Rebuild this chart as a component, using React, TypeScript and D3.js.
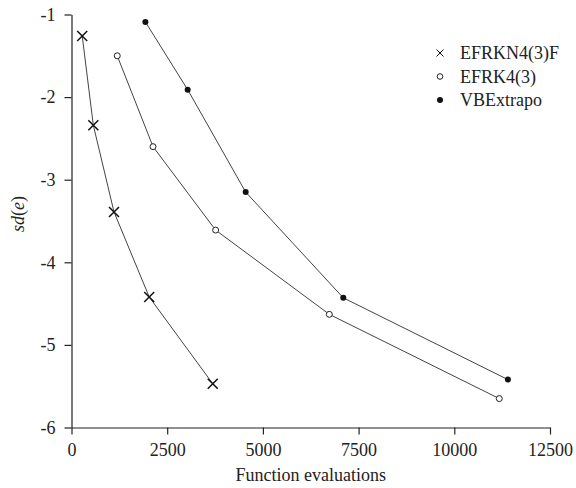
import React, { useRef, useEffect } from "react";
import * as d3 from "d3";

// values
const seriesNames = ["EFRKN4(3)F", "EFRK4(3)", "VBExtrapo"];
const efrkn43fEvals = [280, 570, 1110, 2030, 3690];
const efrkn43fSd = [-1.26, -2.34, -3.39, -4.42, -5.47];
const efrk43Evals = [1195, 2130, 3765, 6735, 11175];
const efrk43Sd = [-1.5, -2.6, -3.61, -4.63, -5.65];
const vbextrapoEvals = [1930, 3035, 4550, 7100, 11400];
const vbextrapoSd = [-1.09, -1.91, -3.15, -4.43, -5.42];
const xTicks = [0, 2500, 5000, 7500, 10000, 12500];
const yTicks = [-1, -2, -3, -4, -5, -6];

type Pt = { x: number; y: number };
const zip = (xs: number[], ys: number[]): Pt[] => xs.map((x, i) => ({ x, y: ys[i] }));

export default function App() {
  const svgRef = useRef<SVGSVGElement>(null);

  useEffect(() => {
    const svg = d3.select(svgRef.current);
    svg.selectAll("*").remove();

    const width = 576;
    const height = 488;
    const font = "'Liberation Serif', 'Times New Roman', serif";
    const ink = "#222";

    const x = d3.scaleLinear().domain([0, 12500]).range([71.5, 550]);
    const y = d3.scaleLinear().domain([-6, -1]).range([427.5, 14.5]);

    svg.attr("width", width).attr("height", height).attr("viewBox", `0 0 ${width} ${height}`);

    // axes (plain hyphen for negatives, like the original)
    const fmt = (d: d3.NumberValue) => String(d);
    const gx = svg.append("g").attr("transform", `translate(0,${y(-6)})`)
      .call(d3.axisBottom(x).tickValues(xTicks).tickSize(7).tickSizeOuter(0).tickPadding(6).tickFormat(fmt));
    const gy = svg.append("g").attr("transform", `translate(${x(0)},0)`)
      .call(d3.axisLeft(y).tickValues(yTicks).tickSize(7).tickSizeOuter(0).tickPadding(9).tickFormat(fmt));
    [gx, gy].forEach((g) => {
      g.selectAll("path,line").attr("stroke", ink).attr("stroke-width", 1.2);
      g.selectAll("text").attr("font-family", font).attr("font-size", 18).attr("fill", ink);
    });
    gx.selectAll("text").attr("dy", "0.85em");

    svg.append("text")
      .attr("x", (x(0) + x(12500)) / 2).attr("y", 481)
      .attr("text-anchor", "middle").attr("font-family", font).attr("font-size", 18).attr("fill", ink)
      .text("Function evaluations");

    const yl = svg.append("text")
      .attr("transform", `translate(24,214) rotate(-90)`)
      .attr("text-anchor", "middle").attr("font-family", font).attr("font-size", 18).attr("fill", ink);
    yl.append("tspan").attr("font-style", "italic").text("sd");
    yl.append("tspan").text("(");
    yl.append("tspan").attr("font-style", "italic").text("e");
    yl.append("tspan").text(")");

    const line = d3.line<Pt>().x((d) => x(d.x)).y((d) => y(d.y));
    const series = [
      zip(efrkn43fEvals, efrkn43fSd),
      zip(efrk43Evals, efrk43Sd),
      zip(vbextrapoEvals, vbextrapoSd),
    ];
    series.forEach((rows) => {
      svg.append("path").datum(rows).attr("fill", "none")
        .attr("stroke", "#444").attr("stroke-width", 1).attr("d", line);
    });

    const cross = (g: d3.Selection<any, any, any, any>, cx: number, cy: number, s: number, w: number) => {
      g.append("path")
        .attr("d", `M${cx - s},${cy - s}L${cx + s},${cy + s}M${cx - s},${cy + s}L${cx + s},${cy - s}`)
        .attr("stroke", "#111").attr("stroke-width", w).attr("fill", "none");
    };

    series[0].forEach((d) => cross(svg, x(d.x), y(d.y), 5, 1.5));
    svg.selectAll("circle.open").data(series[1]).join("circle").attr("class", "open")
      .attr("cx", (d) => x(d.x)).attr("cy", (d) => y(d.y)).attr("r", 3)
      .attr("fill", "white").attr("stroke", "#222").attr("stroke-width", 1);
    svg.selectAll("circle.fill").data(series[2]).join("circle").attr("class", "fill")
      .attr("cx", (d) => x(d.x)).attr("cy", (d) => y(d.y)).attr("r", 3)
      .attr("fill", "#111");

    // legend
    const lg = svg.append("g");
    seriesNames.forEach((name, i) => {
      const ly = 53 + i * 23.5;
      if (i === 0) cross(lg, 440, ly, 3.5, 1);
      if (i === 1) lg.append("circle").attr("cx", 440).attr("cy", ly).attr("r", 2.8)
        .attr("fill", "white").attr("stroke", "#222").attr("stroke-width", 1);
      if (i === 2) lg.append("circle").attr("cx", 440).attr("cy", ly).attr("r", 3).attr("fill", "#111");
      lg.append("text").attr("x", 460).attr("y", ly).attr("dy", "0.35em")
        .attr("font-family", font).attr("font-size", 18).attr("fill", ink).text(name);
    });
  }, []);

  return <svg ref={svgRef} style={{ position: "absolute", left: 0, top: 0 }} />;
}
